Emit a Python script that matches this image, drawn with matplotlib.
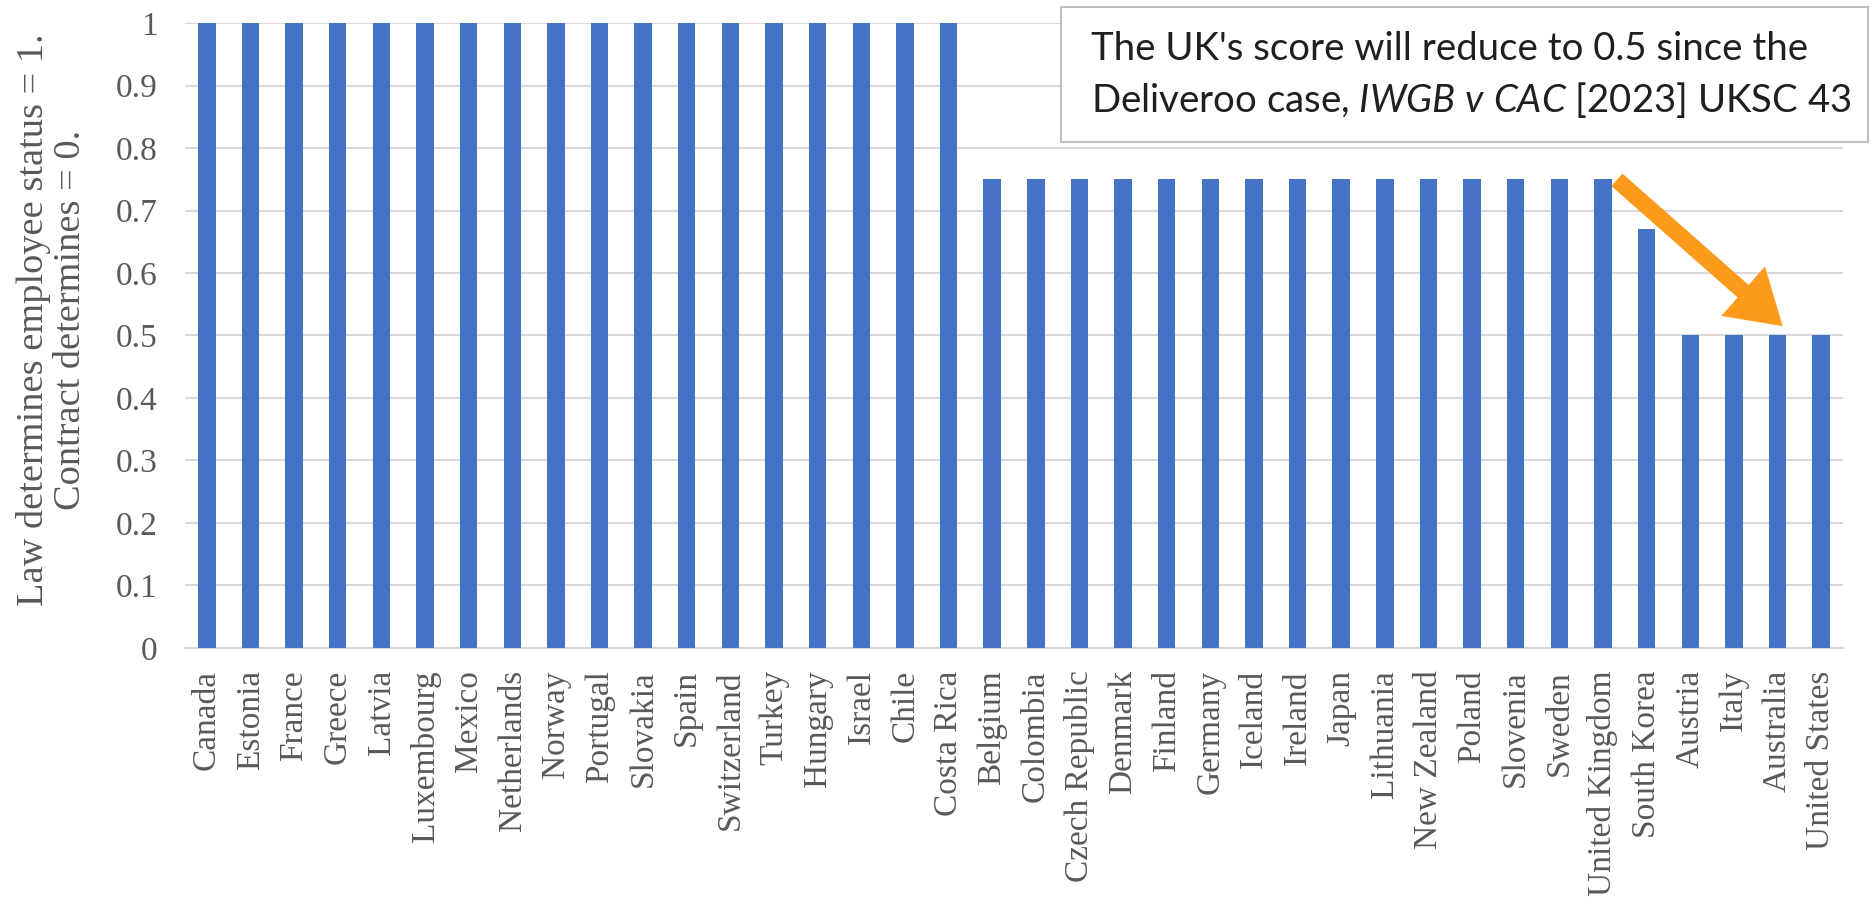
import matplotlib
matplotlib.use('Agg')
import matplotlib.pyplot as plt
from matplotlib.patches import FancyArrowPatch

# datos
paises = ['Canada', 'Estonia', 'France', 'Greece', 'Latvia', 'Luxembourg',
          'Mexico', 'Netherlands', 'Norway', 'Portugal', 'Slovakia', 'Spain',
          'Switzerland', 'Turkey', 'Hungary', 'Israel', 'Chile', 'Costa Rica',
          'Belgium', 'Colombia', 'Czech Republic', 'Denmark', 'Finland',
          'Germany', 'Iceland', 'Ireland', 'Japan', 'Lithuania', 'New Zealand',
          'Poland', 'Slovenia', 'Sweden', 'United Kingdom', 'South Korea',
          'Austria', 'Italy', 'Australia', 'United States']
puntaje = [1] * 18 + [0.75] * 15 + [0.67] + [0.5] * 4
yticks = [0, 0.1, 0.2, 0.3, 0.4, 0.5, 0.6, 0.7, 0.8, 0.9, 1]
ytick_labels = ['0', '0.1', '0.2', '0.3', '0.4', '0.5', '0.6', '0.7', '0.8',
                '0.9', '1']

# configuraciones
plt.rcParams['mathtext.fontset'] = 'custom'
plt.rcParams['mathtext.rm'] = 'Lato'
plt.rcParams['mathtext.it'] = 'Lato:italic'

gris = '#595959'
serif = 'Liberation Serif'

fig = plt.figure(figsize=(18.71, 9.06), dpi=100)
ax = fig.add_axes([0.0989, 0.2848, 0.8861, 0.6898])

x = range(len(paises))
ax.bar(x, puntaje, width=0.4, color='#4472C4', zorder=3)

ax.set_xlim(-0.5, len(paises) - 0.5)
ax.set_ylim(0, 1)
ax.set_yticks(yticks)
ax.set_yticklabels(ytick_labels)
ax.set_xticks(list(x))
ax.set_xticklabels(paises, rotation=90)

for lab in ax.get_xticklabels() + ax.get_yticklabels():
    lab.set_family(serif)
    lab.set_fontsize(24)
    lab.set_color(gris)

ax.tick_params(axis='both', length=0)
ax.tick_params(axis='x', pad=16)
ax.tick_params(axis='y', pad=20)

ax.grid(axis='y', color='#D9D9D9', lw=1.5, zorder=0)
for s in ['top', 'right', 'left']:
    ax.spines[s].set_visible(False)
ax.spines['bottom'].set_color('#D9D9D9')
ax.spines['bottom'].set_linewidth(1.5)

ax.set_ylabel('Law determines employee status = 1.\nContract determines = 0.',
              family=serif, fontsize=27.6, color=gris, linespacing=1.1)
ax.yaxis.set_label_coords(-0.0585, 0.525)

# cuadro de texto
caja = plt.Rectangle((1061 / 1871, 1 - 142 / 906), 807 / 1871, 135 / 906,
                     transform=fig.transFigure, facecolor='white',
                     edgecolor='#BFBFBF', lw=1.5, zorder=5)
fig.patches.append(caja)
fig.text(1091 / 1871, 1 - 60 / 906,
         "The UK's score will reduce to 0.5 since the",
         family='Lato', fontsize=27.6, color='#1f1f1f', va='baseline', zorder=6)
fig.text(1091 / 1871, 1 - 112 / 906,
         r"Deliveroo case, $\mathit{IWGB}$ $\mathit{v}$ $\mathit{CAC}$ [2023] UKSC 43",
         family='Lato', fontsize=27.6, color='#1f1f1f', va='baseline', zorder=6)

# flecha
flecha = FancyArrowPatch((32.32, 0.749), (36.12, 0.515),
                         arrowstyle='simple,head_width=4.75,head_length=3.8,'
                                    'tail_width=1.2',
                         mutation_scale=10, color='#FC9A1B', lw=0,
                         shrinkA=0, shrinkB=0, zorder=6)
ax.add_patch(flecha)

fig.savefig('out.png', dpi=100)
